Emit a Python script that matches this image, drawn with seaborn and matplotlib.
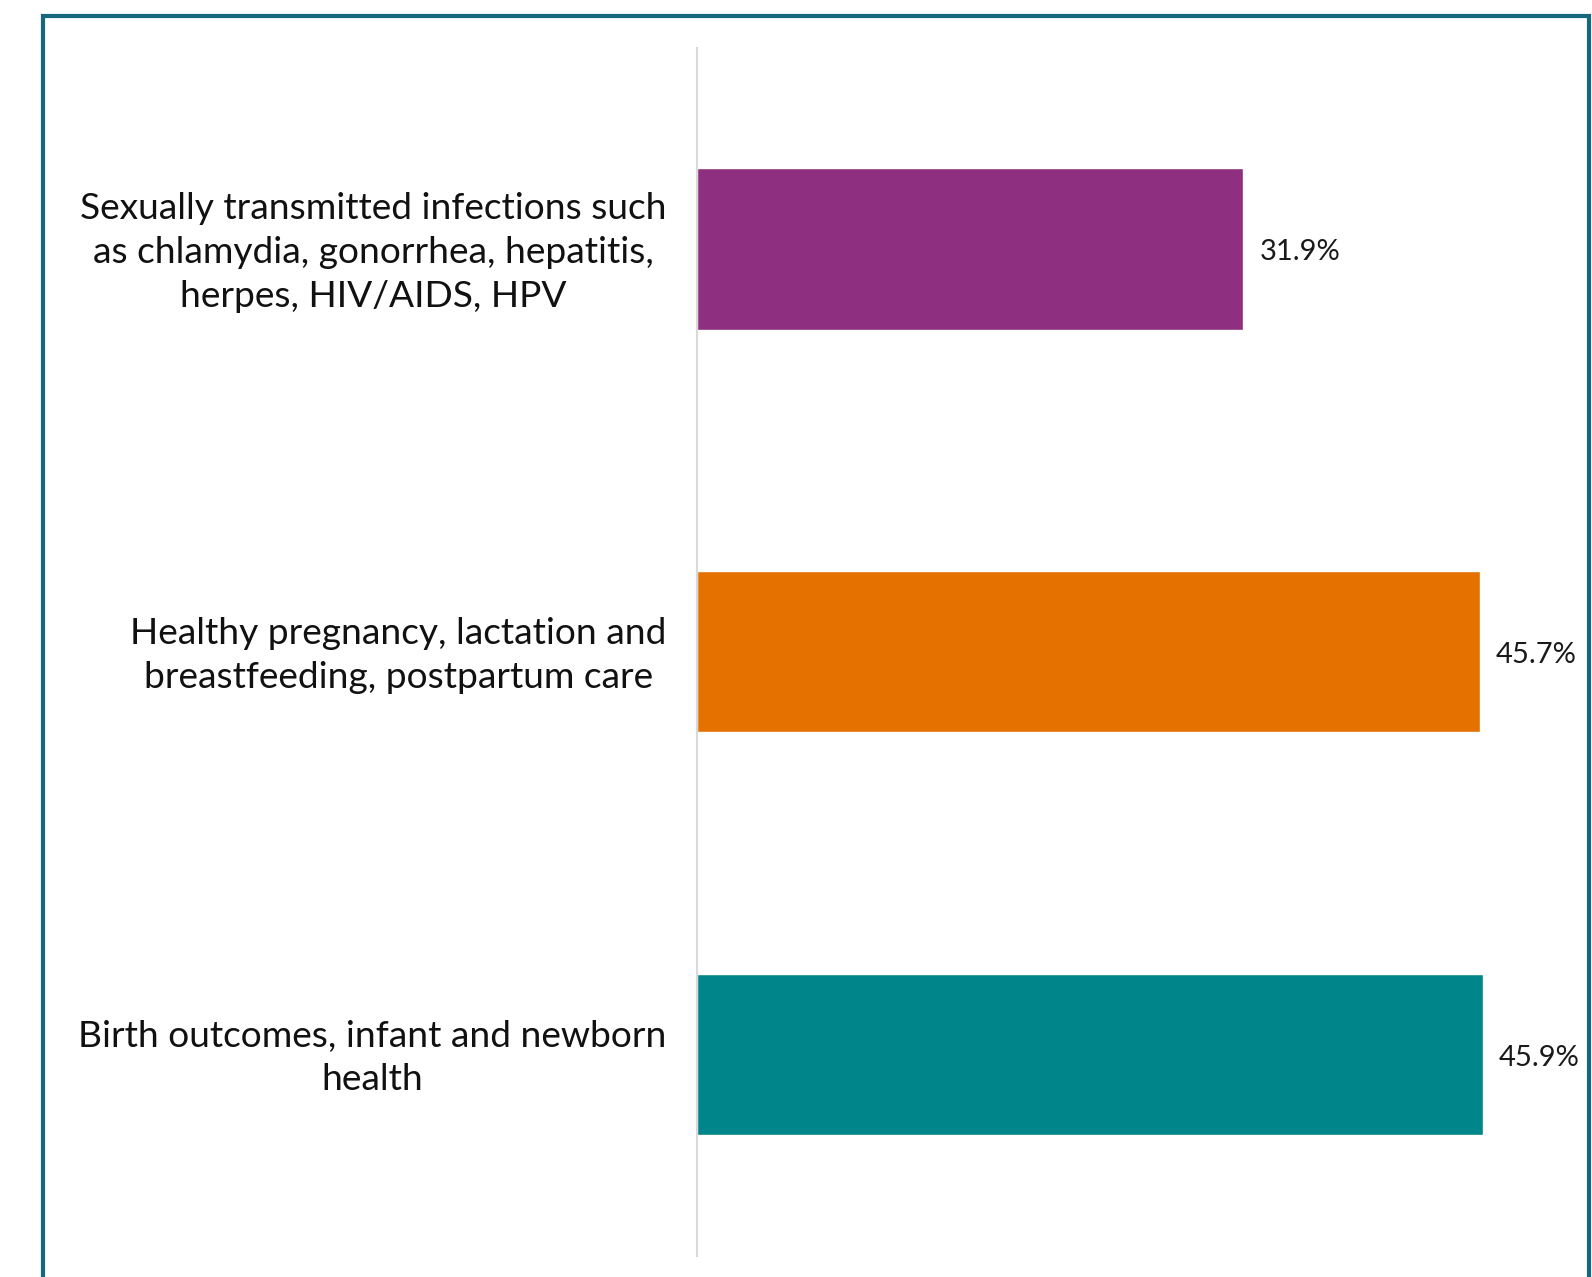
import matplotlib
matplotlib.use('Agg')
import matplotlib.pyplot as plt
import matplotlib.transforms as mtransforms
import seaborn as sns
import pandas as pd
from matplotlib.patches import Rectangle

# Dados do gráfico
categorias = [
    'Sexually transmitted infections such\nas chlamydia, gonorrhea, hepatitis,\nherpes, HIV/AIDS, HPV',
    'Healthy pregnancy, lactation and\nbreastfeeding, postpartum care',
    'Birth outcomes, infant and newborn\nhealth',
]
valores = [31.9, 45.7, 45.9]
rotulos = ['31.9%', '45.7%', '45.9%']
cores = ['#8F2F80', '#E57200', '#00868A']

df = pd.DataFrame({'categoria': categorias, 'valor': valores})

sns.set_style('white')
plt.rcParams['font.family'] = ['Lato', 'DejaVu Sans']

fig = plt.figure(figsize=(15.92, 12.77), dpi=100)
ax = fig.add_axes([0.4378, 0.0164, 0.5594, 0.9464])

sns.barplot(data=df, y='categoria', x='valor', hue='categoria', palette=cores,
            orient='h', width=0.4, legend=False, ax=ax, saturation=1)

ax.set_xlim(0, 52)
ax.set_ylim(2.5, -0.5)

# Rótulos de valor
for i, (v, r) in enumerate(zip(valores, rotulos)):
    ax.annotate(r, xy=(v, i), xytext=(16, -3), textcoords='offset pixels',
                va='center', ha='left', fontsize=21, color='#1a1a1a')

ax.set_xlabel('')
ax.set_ylabel('')
ax.set_xticks([])
ax.tick_params(axis='y', length=0, pad=22, labelsize=26.7, labelcolor='#111111')
deslocamento = mtransforms.ScaledTranslation(0, 5 / 100, fig.dpi_scale_trans)
for lab in ax.get_yticklabels():
    lab.set_multialignment('center')
    lab.set_linespacing(1.4)
    lab.set_transform(lab.get_transform() + deslocamento)

for s in ['top', 'right', 'bottom']:
    ax.spines[s].set_visible(False)
ax.spines['left'].set_color('#d9d9d9')
ax.spines['left'].set_linewidth(1.5)

# Moldura
fig.patches.append(Rectangle((42.5 / 1592, -0.05), (1589 - 42.5) / 1592, 1.05 - 16 / 1277,
                             transform=fig.transFigure, fill=False,
                             edgecolor='#17687F', linewidth=3, zorder=10))

fig.savefig('out.png', dpi=100)
